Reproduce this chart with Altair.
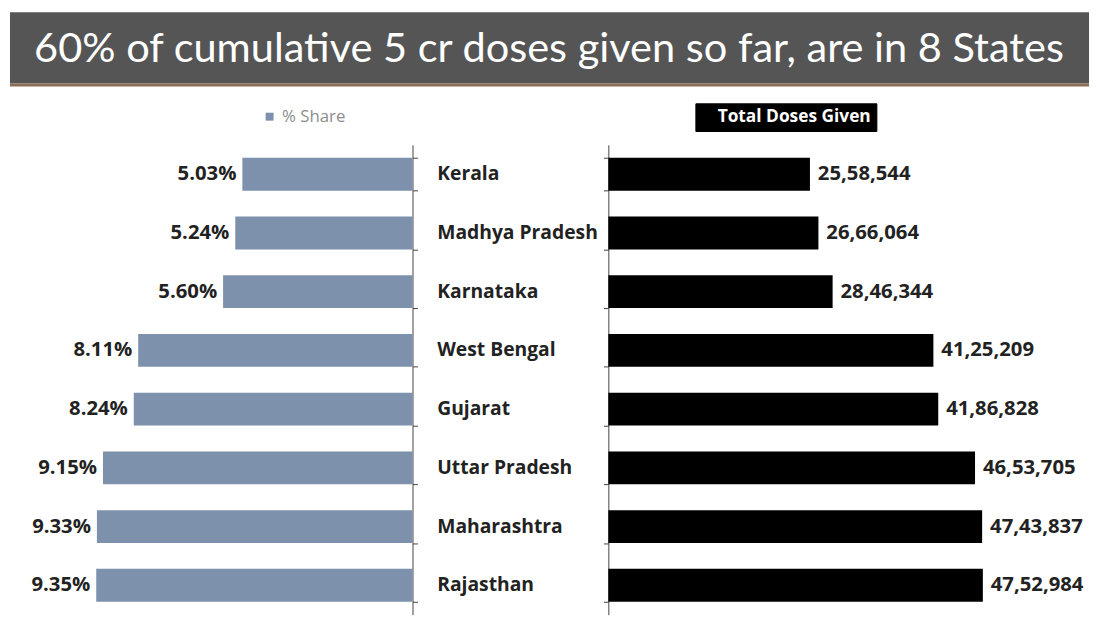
import altair as alt
import pandas as pd

# ---- data ----
states = ["Kerala", "Madhya Pradesh", "Karnataka", "West Bengal",
          "Gujarat", "Uttar Pradesh", "Maharashtra", "Rajasthan"]
share = [5.03, 5.24, 5.60, 8.11, 8.24, 9.15, 9.33, 9.35]
share_labels = ["5.03%", "5.24%", "5.60%", "8.11%", "8.24%", "9.15%", "9.33%", "9.35%"]
doses = [2558544, 2666064, 2846344, 4125209, 4186828, 4653705, 4743837, 4752984]
dose_labels = ["25,58,544", "26,66,064", "28,46,344", "41,25,209",
               "41,86,828", "46,53,705", "47,43,837", "47,52,984"]
title_text = "60% of cumulative 5 cr doses given so far, are in 8 States"
left_series = "% Share"
right_series = "Total Doses Given"

df = pd.DataFrame({
    "state": states,
    "share": share,
    "share_label": share_labels,
    "doses": doses,
    "dose_label": dose_labels,
    "s1": left_series,
    "s2": right_series,
})
title_df = pd.DataFrame({"t": [title_text]})

FONT = "Open Sans"
BAR_L = "#7d91ac"
AX = "#444444"
H = 475
ysc = alt.Scale(paddingInner=0.44, paddingOuter=0.22)

# ---- title bar ----
t_rect = alt.Chart(title_df).mark_rect(color="#555555").encode(
    x=alt.value(0), x2=alt.value(1091), y=alt.value(1), y2=alt.value(73))
t_line = alt.Chart(title_df).mark_rule(color="#8a6e55", strokeWidth=3).encode(
    x=alt.value(0), x2=alt.value(1091), y=alt.value(74.5))
t_text = alt.Chart(title_df).mark_text(
    color="white", font="Lato", fontSize=42, align="center", baseline="middle"
).encode(x=alt.value(545), y=alt.value(38), text="t:N")
title_chart = alt.layer(t_rect, t_line, t_text).properties(width=1091, height=76)

# ---- left: % share ----
base_l = alt.Chart(df).encode(
    y=alt.Y("state:N", sort=states, scale=ysc,
            axis=alt.Axis(orient="right", labels=False, title=None, grid=False,
                          tickBand="extent", domainColor=AX, tickColor=AX,
                          tickSize=5, domainWidth=1)),
    x=alt.X("share:Q", scale=alt.Scale(domain=[0, 11.9], reverse=True), axis=None),
)
bars_l = base_l.mark_bar().encode(
    color=alt.Color("s1:N", scale=alt.Scale(range=[BAR_L]),
                    legend=alt.Legend(orient="none", legendX=254, legendY=-37,
                                      title=None, symbolType="square", symbolSize=64,
                                      symbolStrokeWidth=0, padding=0,
                                      labelColor="#8c8c8c", labelFont=FONT,
                                      labelFontSize=17, labelOffset=4)))
text_l = base_l.mark_text(align="right", baseline="middle", dx=-6, font=FONT,
                          fontSize=20.5, fontWeight="bold", color="#222222").encode(
    text="share_label:N")
left = alt.layer(bars_l, text_l).properties(width=407, height=H)

# ---- middle: state names ----
mid = alt.Chart(df).mark_text(align="left", baseline="middle", font=FONT,
                              fontSize=19.5, fontWeight="bold", color="#222222").encode(
    y=alt.Y("state:N", sort=states, scale=ysc, axis=None),
    x=alt.value(19),
    text="state:N",
).properties(width=186, height=H)

# ---- right: total doses ----
base_r = alt.Chart(df).encode(
    y=alt.Y("state:N", sort=states, scale=ysc,
            axis=alt.Axis(orient="left", labels=False, title=None, grid=False,
                          tickBand="extent", domainColor=AX, tickColor=AX,
                          tickSize=5, domainWidth=1)),
    x=alt.X("doses:Q", scale=alt.Scale(domain=[0, 6000000]), axis=None),
)
bars_r = base_r.mark_bar().encode(
    color=alt.Color("s2:N", scale=alt.Scale(range=["#000000"]),
                    legend=alt.Legend(orient="none", legendX=88, legendY=-42,
                                      title=None, symbolSize=1, symbolOpacity=0,
                                      symbolStrokeWidth=0, labelOffset=0,
                                      padding=5, fillColor="#000000",
                                      strokeColor="#000000",
                                      labelColor="white", labelFont=FONT,
                                      labelFontSize=17.5, labelFontWeight="bold")))
text_r = base_r.mark_text(align="left", baseline="middle", dx=8, font=FONT,
                          fontSize=20.5, fontWeight="bold", color="#222222").encode(
    text="dose_label:N")
right = alt.layer(bars_r, text_r).properties(width=478, height=H)

row = alt.hconcat(left, mid, right, spacing=0).resolve_scale(color="independent")

chart = alt.vconcat(title_chart, row, spacing=16).properties(
    padding=0, background="white"
).configure_view(stroke=None)

chart.save("out.html", embed_options={"renderer": "svg", "actions": False})
